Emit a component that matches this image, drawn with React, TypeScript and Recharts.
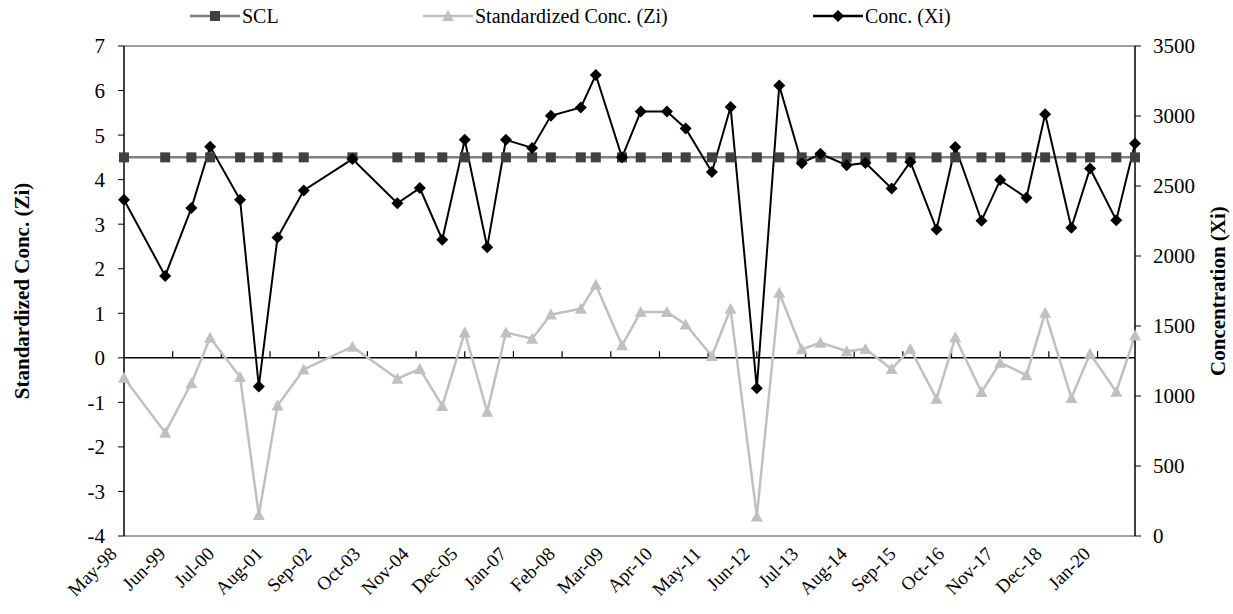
import React from 'react';
import { LineChart, Line, XAxis, YAxis, ReferenceLine, Legend } from 'recharts';

// months since May-98 for each sample
const months = [
  0, 11, 18, 23, 31, 36, 41, 48, 61, 73,
  79, 85, 91, 97, 102, 109, 114, 122, 126, 133,
  138, 145, 150, 157, 162, 169, 175, 181, 186, 193,
  198, 205, 210, 217, 222, 229, 234, 241, 246, 253,
  258, 265, 270,
];

const concXi = [
  2402, 1858, 2342, 2781, 2402, 1068, 2132, 2468, 2692, 2377,
  2485, 2116, 2830, 2063, 2830, 2772, 3001, 3061, 3293, 2705,
  3032, 3032, 2911, 2600, 3064, 1056, 3217, 2663, 2730, 2649,
  2665, 2482, 2672, 2190, 2779, 2252, 2542, 2416, 3012, 2202,
  2625, 2256, 2803,
];

const stdZi = [
  -0.45, -1.68, -0.57, 0.45, -0.43, -3.53, -1.07, -0.26, 0.25, -0.47,
  -0.25, -1.08, 0.57, -1.21, 0.57, 0.43, 0.97, 1.1, 1.64, 0.28,
  1.03, 1.03, 0.75, 0.04, 1.1, -3.56, 1.46, 0.19, 0.34, 0.15,
  0.2, -0.25, 0.2, -0.92, 0.46, -0.77, -0.11, -0.39, 1.01, -0.9,
  0.09, -0.76, 0.5,
];

const sclLevel = 4.5;

const tickMonths = [0, 13, 26, 39, 52, 65, 78, 91, 104, 117, 130, 143, 156, 169, 182, 195, 208, 221, 234, 247, 260];
const tickLabels = [
  'May-98', 'Jun-99', 'Jul-00', 'Aug-01', 'Sep-02', 'Oct-03', 'Nov-04',
  'Dec-05', 'Jan-07', 'Feb-08', 'Mar-09', 'Apr-10', 'May-11', 'Jun-12',
  'Jul-13', 'Aug-14', 'Sep-15', 'Oct-16', 'Nov-17', 'Dec-18', 'Jan-20',
];

const leftTicks = [-4, -3, -2, -1, 0, 1, 2, 3, 4, 5, 6, 7];
const rightTicks = [0, 500, 1000, 1500, 2000, 2500, 3000, 3500];

const data = months.map((m, i) => ({
  month: m,
  scl: sclLevel,
  zi: stdZi[i],
  xi: concXi[i],
}));

const FONT = "'Liberation Serif', 'DejaVu Serif', serif";
const SCL_LINE = '#7f7f7f';
const SCL_MARK = '#404040';
const ZI_COLOR = '#c0c0c0';

const SquareDot = (p: any) =>
  p.cx == null ? null : (
    <rect key={`s-${p.index}`} x={p.cx - 5} y={p.cy - 5} width={10} height={10} fill={SCL_MARK} />
  );

const TriangleDot = (p: any) =>
  p.cx == null ? null : (
    <polygon
      key={`t-${p.index}`}
      points={`${p.cx},${p.cy - 6} ${p.cx + 6},${p.cy + 5} ${p.cx - 6},${p.cy + 5}`}
      fill={ZI_COLOR}
    />
  );

const DiamondDot = (p: any) =>
  p.cx == null ? null : (
    <polygon
      key={`d-${p.index}`}
      points={`${p.cx},${p.cy - 6} ${p.cx + 6},${p.cy} ${p.cx},${p.cy + 6} ${p.cx - 6},${p.cy}`}
      fill="#000"
    />
  );

const DateTick = ({ x, y, payload }: any) => (
  <g transform={`translate(${x - 6},${y + 19})`}>
    <text textAnchor="end" transform="rotate(-45)" style={{ fontFamily: FONT }} fontSize={19} fill="#000">
      {tickLabels[tickMonths.indexOf(payload.value)]}
    </text>
  </g>
);

const legendItems = [
  { label: 'SCL', left: 190, line: SCL_LINE, marker: 'square' },
  { label: 'Standardized Conc. (Zi)', left: 423, line: ZI_COLOR, marker: 'triangle' },
  { label: 'Conc. (Xi)', left: 813, line: '#000', marker: 'diamond' },
];

const LegendIcon = ({ line, marker }: { line: string; marker: string }) => (
  <svg width={50} height={20} style={{ display: 'block' }}>
    <line x1={0} y1={10} x2={50} y2={10} stroke={line} strokeWidth={2.5} />
    {marker === 'square' && <rect x={20} y={5} width={10} height={10} fill={SCL_MARK} />}
    {marker === 'triangle' && <polygon points="25,4 31,15 19,15" fill={ZI_COLOR} />}
    {marker === 'diamond' && <polygon points="25,4 31,10 25,16 19,10" fill="#000" />}
  </svg>
);

const renderLegend = () => (
  <div style={{ position: 'relative', width: 1233, height: 32 }}>
    {legendItems.map((it) => (
      <div
        key={it.label}
        style={{ position: 'absolute', left: it.left, top: 6, display: 'flex', alignItems: 'center' }}
      >
        <LegendIcon line={it.line} marker={it.marker} />
        <span style={{ fontFamily: FONT, fontSize: 20, color: '#000', marginLeft: 2, lineHeight: '20px' }}>
          {it.label}
        </span>
      </div>
    ))}
  </div>
);

const AxisTitle = (offsetX: number, text: string) => (props: any) => {
  const vb = props.viewBox;
  const cx = vb.x + offsetX;
  const cy = vb.y + vb.height / 2;
  return (
    <text
      x={cx}
      y={cy}
      transform={`rotate(-90, ${cx}, ${cy})`}
      textAnchor="middle"
      dominantBaseline="central"
      style={{ fontFamily: FONT }}
      fontSize={21}
      fontWeight="bold"
      fill="#000"
    >
      {text}
    </text>
  );
};

const tickStyle = { fill: '#000', fontSize: 21, style: { fontFamily: FONT } };

export default function App() {
  return (
    <div
      style={{
        position: 'absolute',
        left: 0,
        top: 0,
        width: 1233,
        height: 614,
        background: '#fff',
        fontFamily: FONT,
      }}
    >
      <LineChart
        width={1233}
        height={614}
        data={data}
        margin={{ top: 46, right: 0, bottom: 0, left: 0 }}
        style={{ fontFamily: FONT }}
      >
        <XAxis
          dataKey="month"
          type="number"
          domain={[0, 270]}
          ticks={tickMonths}
          interval={0}
          height={78}
          tickLine={false}
          tickSize={0}
          tickMargin={0}
          axisLine={{ stroke: '#808080', strokeWidth: 1.5 }}
          tick={<DateTick />}
        />
        <YAxis
          yAxisId="left"
          orientation="left"
          width={124}
          domain={[-4, 7]}
          ticks={leftTicks}
          interval={0}
          allowDataOverflow
          tickSize={6}
          tickMargin={13}
          axisLine={{ stroke: '#000', strokeWidth: 1.5 }}
          tickLine={{ stroke: '#000' }}
          tick={tickStyle}
          label={{ content: AxisTitle(22, 'Standardized Conc. (Zi)') }}
        />
        <YAxis
          yAxisId="right"
          orientation="right"
          width={98}
          domain={[0, 3500]}
          ticks={rightTicks}
          interval={0}
          allowDataOverflow
          tickSize={6}
          tickMargin={12}
          axisLine={{ stroke: '#000', strokeWidth: 1.5 }}
          tickLine={{ stroke: '#000' }}
          tick={tickStyle}
          label={{ content: AxisTitle(83, 'Concentration (Xi)') }}
        />
        <ReferenceLine yAxisId="left" y={7} stroke="#808080" strokeWidth={1.5} />
        <ReferenceLine yAxisId="left" y={0} stroke="#000" strokeWidth={1.5} />
        {tickMonths.slice(1).map((m) => (
          <ReferenceLine
            key={`zt-${m}`}
            yAxisId="left"
            segment={[{ x: m, y: 0 }, { x: m, y: 0.15 }]}
            stroke="#000"
            strokeWidth={1.2}
          />
        ))}
        <Line
          yAxisId="left"
          dataKey="zi"
          type="linear"
          stroke={ZI_COLOR}
          strokeWidth={2.5}
          dot={TriangleDot}
          activeDot={false}
          isAnimationActive={false}
        />
        <Line
          yAxisId="left"
          dataKey="scl"
          type="linear"
          stroke={SCL_LINE}
          strokeWidth={2.5}
          dot={SquareDot}
          activeDot={false}
          isAnimationActive={false}
        />
        <Line
          yAxisId="right"
          dataKey="xi"
          type="linear"
          stroke="#000"
          strokeWidth={2}
          dot={DiamondDot}
          activeDot={false}
          isAnimationActive={false}
        />
        <Legend
          layout="horizontal"
          verticalAlign="middle"
          align="center"
          wrapperStyle={{ top: 0, left: 0, width: 1233, height: 32 }}
          content={renderLegend}
        />
      </LineChart>
    </div>
  );
}
